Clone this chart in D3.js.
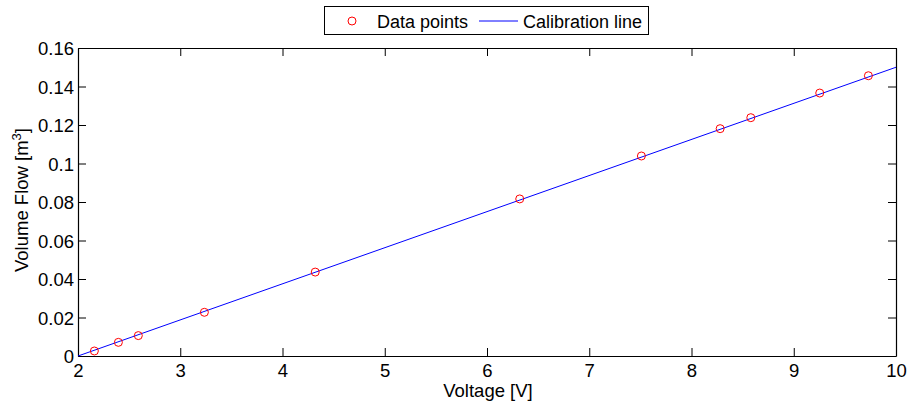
<!DOCTYPE html>
<html>
<head>
<meta charset="utf-8">
<script src="https://cdn.jsdelivr.net/npm/d3@7"></script>
<style>
  body { margin: 0; background: #fff; }
  text { font-family: "Liberation Sans", Arial, Helvetica, sans-serif; }
</style>
</head>
<body>
<div id="chart"></div>
<script>
// data
var voltage = [2.16, 2.395, 2.59, 3.236, 4.32, 6.32, 7.51, 8.28, 8.58, 9.254, 9.73];
var flow = [0.0026, 0.0071, 0.0106, 0.0227, 0.0436, 0.0816, 0.1039, 0.1181, 0.1238, 0.1366, 0.1456];
var calibX = [2, 10];
var calibY = [0, 0.15];
var xTicks = [2, 3, 4, 5, 6, 7, 8, 9, 10];
var yTicks = [0, 0.02, 0.04, 0.06, 0.08, 0.1, 0.12, 0.14, 0.16];

var W = 912, H = 404;
var pLeft = 78, pRight = 896, pTop = 48, pBottom = 356;

var svg = d3.select("#chart").append("svg").attr("width", W).attr("height", H);

var x = d3.scaleLinear().domain([2, 10]).range([pLeft, pRight]);
var y = d3.scaleLinear().domain([0, 0.16]).range([pBottom, pTop]);

var tickLen = 8;
var fs = 18.5;
function fmtY(d) { return d === 0 ? "0" : String(+d.toFixed(2)); }

// bottom axis (ticks inward)
var gx = svg.append("g").attr("transform", "translate(0," + pBottom + ")")
    .call(d3.axisBottom(x).tickValues(xTicks).tickSizeInner(-tickLen).tickSizeOuter(0).tickFormat(d3.format("d")));
// top mirror
var gxt = svg.append("g").attr("transform", "translate(0," + pTop + ")")
    .call(d3.axisTop(x).tickValues(xTicks).tickSizeInner(-tickLen).tickSizeOuter(0).tickFormat(""));
// left axis
var gy = svg.append("g").attr("transform", "translate(" + pLeft + ",0)")
    .call(d3.axisLeft(y).tickValues(yTicks).tickSizeInner(-tickLen).tickSizeOuter(0).tickFormat(fmtY));
// right mirror
var gyr = svg.append("g").attr("transform", "translate(" + pRight + ",0)")
    .call(d3.axisRight(y).tickValues(yTicks).tickSizeInner(-tickLen).tickSizeOuter(0).tickFormat(""));

[gx, gxt, gy, gyr].forEach(function (g) {
  g.selectAll(".domain").attr("stroke", "#000").attr("stroke-width", 1.2);
  g.selectAll(".tick line").attr("stroke", "#000").attr("stroke-width", 1);
  g.selectAll(".tick text").attr("fill", "#000").attr("font-size", fs)
    .attr("font-family", "'Liberation Sans', Arial, sans-serif");
});
gx.selectAll(".tick text").attr("dy", null).attr("y", 21);
gy.selectAll(".tick text").attr("x", -4).attr("dy", "0.36em");

// calibration line
var line = d3.line().x(function (d) { return x(d[0]); }).y(function (d) { return y(d[1]); });
svg.append("path")
    .attr("d", line(calibX.map(function (v, i) { return [v, calibY[i]]; })))
    .attr("fill", "none").attr("stroke", "#0000ff").attr("stroke-width", 1);

// data points
svg.selectAll(".pt").data(voltage).enter().append("circle")
    .attr("cx", function (d) { return x(d); })
    .attr("cy", function (d, i) { return y(flow[i]); })
    .attr("r", 4).attr("fill", "none").attr("stroke", "#ff0000").attr("stroke-width", 1);

// axis labels
svg.append("text").attr("x", 488).attr("y", 397).attr("text-anchor", "middle")
    .attr("font-size", 18.5).text("Voltage [V]");
var yl = svg.append("text").attr("transform", "translate(28,200) rotate(-90)")
    .attr("text-anchor", "middle").attr("font-size", 18.5);
yl.append("tspan").text("Volume Flow [m");
yl.append("tspan").attr("dy", -7).attr("font-size", 13).text("3");
yl.append("tspan").attr("dy", 7).text("]");

// legend
var lg = svg.append("g");
lg.append("rect").attr("x", 324.5).attr("y", 6.5).attr("width", 324).attr("height", 28)
    .attr("fill", "#fff").attr("stroke", "#000").attr("stroke-width", 1);
lg.append("circle").attr("cx", 352).attr("cy", 21).attr("r", 4)
    .attr("fill", "none").attr("stroke", "#ff0000").attr("stroke-width", 1);
lg.append("text").attr("x", 377).attr("y", 27.5).attr("font-size", 18).text("Data points");
lg.append("line").attr("x1", 479).attr("x2", 518).attr("y1", 21).attr("y2", 21)
    .attr("stroke", "#0000ff").attr("stroke-width", 1);
lg.append("text").attr("x", 523).attr("y", 27.5).attr("font-size", 18).text("Calibration line");
</script>
</body>
</html>
